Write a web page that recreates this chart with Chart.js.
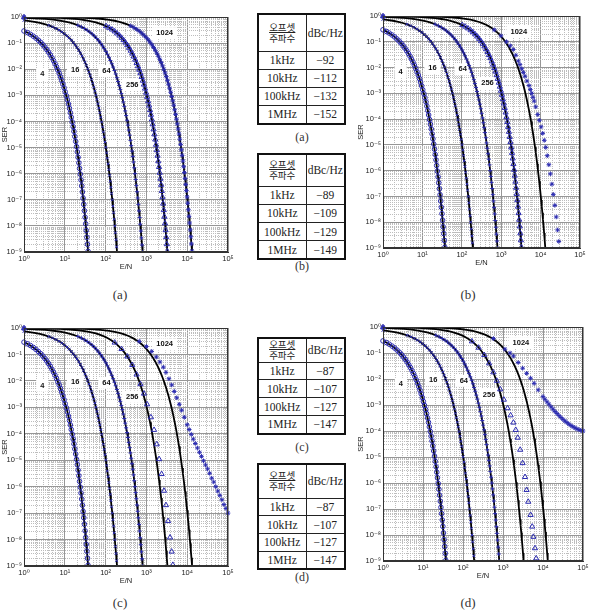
<!DOCTYPE html>
<html>
<head>
<meta charset="utf-8">
<script src="https://cdn.jsdelivr.net/npm/chart.js@4.4.1/dist/chart.umd.min.js"></script>
<style>
  body { margin: 0; width: 594px; height: 614px; background: #fff; position: relative; overflow: hidden; }
  canvas { position: absolute; }
  .cap { position: absolute; font: 12px "Liberation Serif", "DejaVu Serif", serif; color: #333; transform: translate(-50%, -50%); white-space: nowrap; }
  table.pn { position: absolute; border-collapse: collapse; border: 2px solid #111; font: 11.5px "Liberation Serif", "DejaVu Serif", serif; color: #222; table-layout: fixed; }
  table.pn td { border: 1px solid #222; text-align: center; padding: 0; white-space: nowrap; }
  table.pn td.ko { font: 9.5px "Noto Sans CJK KR", sans-serif; line-height: 11px; }
  table.pn td.ko span { text-decoration: underline; }
</style>
</head>
<body>
<canvas id="pa"></canvas>
<canvas id="pb"></canvas>
<canvas id="pc"></canvas>
<canvas id="pd"></canvas>

<script>
// axis ticks
const xDecades = [1, 10, 100, 1000, 1e4, 1e5];
const xTickText = ['10⁰', '10¹', '10²', '10³', '10⁴', '10⁵'];
const yDecades = [1e-9, 1e-8, 1e-7, 1e-6, 1e-5, 1e-4, 1e-3, 1e-2, 1e-1, 1];
const yTickText = ['10⁻⁹', '10⁻⁸', '10⁻⁷', '10⁻⁶', '10⁻⁵', '10⁻⁴', '10⁻³', '10⁻²', '10⁻¹', '10⁰'];

// curve names and where their labels sit (E/N, SER)
const curveNames = ['4', '16', '64', '256', '1024'];
const curveLabelEN = [2.8, 18, 105, 450, 2800];
const curveLabelSER = [6.6e-3, 9.3e-3, 8.5e-3, 2.5e-3, 0.24];

// theory curves (black lines)
const en4 = [1, 1.21, 1.44, 1.69, 1.96, 2.25, 2.56, 2.89, 3.24, 3.61, 4, 4.41, 4.84, 5.29, 5.76, 6.25, 6.76, 7.29, 7.84, 8.41, 9, 9.61, 10.2, 10.9, 11.6, 12.3, 13, 13.7, 14.4, 15.2, 16, 16.8, 17.6, 18.5, 19.4, 20.3, 21.2, 22.1, 23, 24, 25, 26, 27, 28.1, 29.2, 30.3, 31.4, 32.5, 33.6, 34.8, 36, 37.2, 38.4];
const ser4 = [0.292, 0.253, 0.217, 0.184, 0.155, 0.129, 0.107, 0.0872, 0.0705, 0.0566, 0.045, 0.0354, 0.0276, 0.0213, 0.0163, 0.0124, 0.0093, 0.00693, 0.00511, 0.00374, 0.0027, 1.94e-3, 1.37e-3, 9.66e-4, 6.74e-4, 4.66e-4, 3.18e-4, 2.16e-4, 1.45e-4, 9.62e-5, 6.34e-5, 4.14e-5, 2.66e-5, 1.71e-5, 1.08e-5, 6.8e-6, 4.22e-6, 2.6e-6, 1.59e-6, 9.58e-7, 5.74e-7, 3.4e-7, 1.99e-7, 1.16e-7, 6.66e-8, 3.8e-8, 2.14e-8, 1.2e-8, 6.64e-9, 3.64e-9, 1.97e-9, 1.06e-9, 5.64e-10];

const en16 = [1, 1.25, 1.8, 2.45, 3.2, 4.05, 5, 6.05, 7.2, 8.45, 9.8, 11.3, 12.8, 14.5, 16.2, 18.1, 20, 22.1, 24.2, 26.5, 28.8, 31.3, 33.8, 36.5, 39.2, 42.1, 45, 48.1, 51.2, 54.5, 57.8, 61.3, 64.8, 68.5, 72.2, 76.1, 80, 84.1, 88.2, 92.5, 96.8, 101, 106, 110, 115, 120, 125, 130, 135, 140, 146, 151, 157, 162, 168, 174, 180, 186, 192];
const ser16 = [0.741, 0.711, 0.654, 0.594, 0.535, 0.476, 0.419, 0.366, 0.316, 0.269, 0.228, 0.19, 0.158, 0.129, 0.105, 0.0843, 0.0671, 0.0529, 0.0413, 0.0319, 0.0245, 0.0185, 0.0139, 0.0104, 0.00767, 0.00561, 0.00405, 2.9e-3, 2.06e-3, 1.45e-3, 1.01e-3, 6.99e-4, 4.77e-4, 3.24e-4, 2.17e-4, 1.44e-4, 9.51e-5, 6.21e-5, 3.99e-5, 2.56e-5, 1.62e-5, 1.02e-5, 6.33e-6, 3.9e-6, 2.38e-6, 1.44e-6, 8.61e-7, 5.1e-7, 2.99e-7, 1.74e-7, 9.99e-8, 5.7e-8, 3.21e-8, 1.8e-8, 9.96e-9, 5.46e-9, 2.96e-9, 1.59e-9, 8.46e-10];

const en64 = [1, 1.89, 3.36, 5.25, 7.56, 10.3, 13.4, 17, 21, 25.4, 30.2, 35.5, 41.2, 47.3, 53.8, 60.7, 68, 75.8, 84, 92.6, 102, 111, 121, 131, 142, 153, 165, 177, 189, 202, 215, 229, 243, 257, 272, 288, 303, 319, 336, 353, 370, 388, 407, 425, 444, 464, 484, 504, 525, 546, 568, 590, 612, 635, 659, 682, 706, 731, 756, 781, 807];
const ser64 = [0.924, 0.89, 0.842, 0.788, 0.73, 0.668, 0.604, 0.541, 0.478, 0.419, 0.362, 0.31, 0.263, 0.22, 0.183, 0.15, 0.122, 0.098, 0.078, 0.0615, 0.0481, 0.0372, 0.0285, 0.0216, 0.0162, 0.0121, 0.00894, 0.00654, 0.00472, 3.39e-3, 2.4e-3, 1.69e-3, 1.18e-3, 8.15e-4, 5.56e-4, 3.78e-4, 2.53e-4, 1.68e-4, 1.11e-4, 7.25e-5, 4.66e-5, 2.99e-5, 1.89e-5, 1.19e-5, 7.39e-6, 4.55e-6, 2.78e-6, 1.68e-6, 1e-6, 5.95e-7, 3.49e-7, 2.03e-7, 1.17e-7, 6.65e-8, 3.75e-8, 2.1e-8, 1.16e-8, 6.37e-9, 3.45e-9, 1.86e-9, 9.87e-10];

const en256 = [1, 3.4, 7.65, 13.6, 21.3, 30.6, 41.7, 54.4, 68.9, 85, 103, 122, 144, 167, 191, 218, 246, 275, 307, 340, 375, 411, 450, 490, 531, 575, 620, 666, 715, 765, 817, 870, 926, 983, 1041, 1102, 1164, 1227, 1293, 1360, 1429, 1499, 1572, 1646, 1721, 1799, 1878, 1958, 2041, 2125, 2211, 2298, 2388, 2479, 2571, 2666, 2762, 2859, 2959, 3060, 3163, 3267, 3374];
const ser256 = [0.979, 0.955, 0.92, 0.875, 0.822, 0.764, 0.702, 0.637, 0.571, 0.507, 0.444, 0.385, 0.33, 0.28, 0.235, 0.195, 0.16, 0.13, 0.105, 0.0835, 0.0659, 0.0514, 0.0398, 0.0305, 0.0232, 0.0174, 0.013, 0.00958, 0.007, 0.00506, 3.63e-3, 2.58e-3, 1.81e-3, 1.26e-3, 8.74e-4, 5.96e-4, 4.05e-4, 2.71e-4, 1.8e-4, 1.19e-4, 7.76e-5, 4.99e-5, 3.2e-5, 2.03e-5, 1.28e-5, 7.91e-6, 4.88e-6, 2.97e-6, 1.8e-6, 1.08e-6, 6.38e-7, 3.74e-7, 2.17e-7, 1.25e-7, 7.13e-8, 4.01e-8, 2.25e-8, 1.25e-8, 6.83e-9, 3.7e-9, 1.99e-9, 1.06e-9, 5.6e-10];

const en1024 = [1, 3.41, 13.6, 30.7, 54.6, 85.3, 123, 167, 218, 276, 341, 413, 491, 576, 668, 767, 873, 986, 1105, 1231, 1364, 1504, 1650, 1804, 1964, 2131, 2305, 2486, 2673, 2868, 3069, 3277, 3492, 3714, 3942, 4177, 4419, 4668, 4924, 5187, 5456, 5732, 6015, 6305, 6602, 6905, 7216, 7533, 7857, 8188, 8525, 8869, 9221, 9579, 9944, 10315, 10694, 11079, 11471, 11870, 12276, 12689, 13108, 13534];
const ser1024 = [0.995, 0.988, 0.966, 0.933, 0.89, 0.838, 0.78, 0.718, 0.653, 0.586, 0.52, 0.457, 0.396, 0.34, 0.289, 0.242, 0.201, 0.165, 0.134, 0.108, 0.0863, 0.068, 0.0532, 0.0411, 0.0315, 0.0239, 0.018, 0.0134, 0.0099, 0.00723, 0.00523, 3.75e-3, 2.66e-3, 1.87e-3, 1.31e-3, 9.03e-4, 6.16e-4, 4.19e-4, 2.8e-4, 1.86e-4, 1.23e-4, 8.02e-5, 5.15e-5, 3.31e-5, 2.1e-5, 1.32e-5, 8.18e-6, 5.04e-6, 3.07e-6, 1.86e-6, 1.11e-6, 6.59e-7, 3.86e-7, 2.24e-7, 1.29e-7, 7.36e-8, 4.15e-8, 2.33e-8, 1.29e-8, 7.05e-9, 3.82e-9, 2.05e-9, 1.09e-9, 5.8e-10];

// simulated points that leave the theory curves
const simB1024EN = [1, 85, 341, 668, 985, 1364, 1700, 2030, 2350, 2720, 3000, 3310, 3650, 4020, 4500, 5080, 5500, 5940, 6400, 6900, 7500, 8450, 9300, 10300, 11300, 12400, 13500, 14800, 16200, 17700, 19300, 21000, 23000, 25000, 27000, 29000, 31000];
const simB1024SER = [0.995, 0.838, 0.52, 0.29, 0.17, 0.1, 0.07, 0.05, 0.03, 0.018, 0.013, 0.009, 0.0065, 0.0046, 0.003, 0.002, 0.0014, 0.001, 7e-4, 5e-4, 3e-4, 1.5e-4, 9e-5, 5e-5, 2.8e-5, 1.5e-5, 8e-6, 3.8e-6, 1.7e-6, 7.5e-7, 3e-7, 1.2e-7, 4.5e-8, 1.6e-8, 5e-9, 1.8e-9, 7e-10];

const simC256EN = [1, 21.3, 85, 167, 246, 340, 450, 575, 715, 870, 1040, 1290, 1540, 1790, 2050, 2360, 2700, 3020, 3400, 3800, 4150, 4450, 4700];
const simC256SER = [0.979, 0.822, 0.507, 0.28, 0.16, 0.0835, 0.0398, 0.0174, 0.0075, 0.0033, 0.0013, 4.2e-4, 1.4e-4, 4e-5, 1.1e-5, 3e-6, 7e-7, 2e-7, 5e-8, 1.2e-8, 3.5e-9, 1.1e-9, 5e-10];
const simC1024EN = [1, 85, 341, 668, 1000, 1350, 1750, 2150, 2600, 3020, 3570, 4170, 4820, 5530, 6410, 7300, 8500, 10000, 11200, 12600, 14100, 15800, 17800, 20000, 22400, 25100, 28200, 31600, 35500, 39800, 44700, 50100, 56200, 63100, 70800, 79400, 89100, 100000];
const simC1024SER = [0.995, 0.838, 0.53, 0.31, 0.2, 0.13, 0.08, 0.052, 0.033, 0.021, 0.012, 0.007, 0.004, 0.0023, 0.0013, 7.8e-4, 4.2e-4, 2.2e-4, 1.45e-4, 9.5e-5, 6.3e-5, 4.3e-5, 2.9e-5, 2e-5, 1.4e-5, 9.5e-6, 6.6e-6, 4.7e-6, 3.2e-6, 2.1e-6, 1.5e-6, 1e-6, 6.8e-7, 4.7e-7, 3.2e-7, 2.1e-7, 1.5e-7, 1e-7];

const simD256EN = [1, 21.3, 85, 167, 246, 340, 450, 575, 700, 850, 1050, 1300, 1550, 1820, 2080, 2340, 2690, 3090, 3550, 3890, 4270, 4900, 5370, 5750, 6310, 6760, 7100];
const simD256SER = [0.979, 0.822, 0.507, 0.28, 0.16, 0.0835, 0.04, 0.018, 0.0085, 0.004, 0.0016, 7.5e-4, 4e-4, 2.1e-4, 1.1e-4, 5.5e-5, 1.9e-5, 5.8e-6, 1.7e-6, 5.4e-7, 1.9e-7, 5.9e-8, 2.1e-8, 8.5e-9, 3.1e-9, 1.26e-9, 6e-10];
const simD1024EN = [1, 85, 341, 576, 1120, 1500, 1820, 2400, 3100, 3900, 4900, 6000, 7600, 10000, 11200, 12600, 14100, 15800, 17800, 20000, 22400, 25100, 28200, 31600, 35500, 39800, 44700, 50100, 56200, 63100, 70800, 79400, 89100, 100000];
const simD1024SER = [0.995, 0.838, 0.53, 0.36, 0.14, 0.1, 0.076, 0.043, 0.026, 0.0165, 0.0107, 0.0068, 0.0038, 0.0021, 0.00166, 0.00132, 0.00107, 8.5e-4, 6.9e-4, 5.6e-4, 4.7e-4, 3.9e-4, 3.3e-4, 2.8e-4, 2.4e-4, 2.1e-4, 1.82e-4, 1.62e-4, 1.45e-4, 1.32e-4, 1.2e-4, 1.12e-4, 1.05e-4, 1e-4];

// phase noise tables
const tableHead = ['오프셋', '주파수'];
const tableUnit = 'dBc/Hz';
const offsetFreqs = ['1kHz', '10kHz', '100kHz', '1MHz'];
const noiseA = [-92, -112, -132, -152];
const noiseB = [-89, -109, -129, -149];
const noiseC = [-87, -107, -127, -147];
const noiseD = [-87, -107, -127, -147];

const BLUE = '#2b2bb0';
const SANS = '"Liberation Sans", "DejaVu Sans", Arial, sans-serif';

function pts(xs, ys) {
  return xs.map(function (x, i) { return { x: x, y: ys[i] }; });
}

function isDecade(v) {
  if (v === undefined || v <= 0) return false;
  const l = Math.log10(v);
  return Math.abs(l - Math.round(l)) < 1e-6;
}

function gridValues(decades) {
  const lo = Math.round(Math.log10(Math.min.apply(null, decades)));
  const hi = Math.round(Math.log10(Math.max.apply(null, decades)));
  const vals = [];
  for (let e = lo; e < hi; e++) {
    for (let m = 1; m < 10; m++) vals.push(m * Math.pow(10, e));
  }
  vals.push(Math.pow(10, hi));
  return vals;
}

function decadeText(v, decades, texts) {
  if (!isDecade(v)) return '';
  const k = Math.round(Math.log10(v));
  const i = decades.findIndex(function (d) { return Math.round(Math.log10(d)) === k; });
  return i >= 0 ? texts[i] : '';
}

function logScale(pos, decades, texts, title, box) {
  const grids = gridValues(decades);
  return {
    type: 'logarithmic',
    position: pos,
    min: Math.min.apply(null, decades),
    max: Math.max.apply(null, decades),
    afterBuildTicks: function (s) { s.ticks = grids.map(function (v) { return { value: v }; }); },
    afterFit: function (s) { if (pos === 'left') s.width = box.yw; else s.height = box.xh; },
    ticks: {
      autoSkip: false, maxRotation: 0, minRotation: 0, padding: 2, color: '#222',
      font: { family: SANS, size: 7.5 },
      callback: function (v) { return decadeText(v, decades, texts); }
    },
    grid: {
      drawTicks: false, lineWidth: 1,
      color: function (ctx) { return isDecade(ctx.tick ? ctx.tick.value : undefined) ? '#969696' : '#bdbdbd'; }
    },
    border: {
      color: '#333', width: 1,
      dash: function (ctx) { return (ctx.tick && !isDecade(ctx.tick.value)) ? [1, 1] : []; }
    },
    title: {
      display: true, text: title, color: '#222',
      font: { family: SANS, size: 7.5 },
      padding: pos === 'left' ? { top: 0, bottom: 0 } : { top: 0, bottom: box.pb }
    }
  };
}

// frame round the plot area
const framePlugin = {
  id: 'frame',
  afterDatasetsDraw: function (chart) {
    const a = chart.chartArea, ctx = chart.ctx;
    ctx.save();
    ctx.strokeStyle = '#333';
    ctx.lineWidth = 1;
    ctx.strokeRect(Math.round(a.left) + 0.5, Math.round(a.top) + 0.5,
      Math.round(a.right - a.left) - 1, Math.round(a.bottom - a.top) - 1);
    ctx.restore();
  }
};

// curve names with a white box behind
const curveLabelPlugin = {
  id: 'curveLabels',
  beforeDatasetsDraw: function (chart) {
    const ctx = chart.ctx, xs = chart.scales.x, ys = chart.scales.y;
    ctx.save();
    ctx.font = 'bold 7.5px ' + SANS;
    ctx.textAlign = 'center';
    ctx.textBaseline = 'middle';
    curveNames.forEach(function (name, i) {
      const px = xs.getPixelForValue(curveLabelEN[i]);
      const py = ys.getPixelForValue(curveLabelSER[i]);
      const w = ctx.measureText(name).width;
      ctx.fillStyle = '#fff';
      ctx.fillRect(px - w / 2 - 4, py - 6, w + 8, 12);
      ctx.fillStyle = '#111';
      ctx.fillText(name, px, py);
    });
    ctx.restore();
  }
};

const markerStyles = [
  { pointStyle: 'circle', radius: 2.3 },
  { pointStyle: 'crossRot', radius: 2 },
  { pointStyle: 'cross', radius: 2 },
  { pointStyle: 'triangle', radius: 3 },
  { pointStyle: 'star', radius: 2.3 }
];

const theory = [[en4, ser4], [en16, ser16], [en64, ser64], [en256, ser256], [en1024, ser1024]];

const panels = [
  { id: 'pa', left: 0, top: 0, w: 240, h: 272, plot: { l: 24, t: 17, r: 228, b: 252 },
    sims: theory },
  { id: 'pb', left: 356, top: 0, w: 236, h: 268, plot: { l: 383, t: 16, r: 580, b: 248 },
    sims: [theory[0], theory[1], theory[2], theory[3], [simB1024EN, simB1024SER]] },
  { id: 'pc', left: 0, top: 310, w: 240, h: 276, plot: { l: 24, t: 328, r: 228, b: 566 },
    sims: [theory[0], theory[1], theory[2], [simC256EN, simC256SER], [simC1024EN, simC1024SER]] },
  { id: 'pd', left: 356, top: 310, w: 236, h: 271, plot: { l: 383, t: 327, r: 583, b: 561 },
    sims: [theory[0], theory[1], theory[2], [simD256EN, simD256SER], [simD1024EN, simD1024SER]] }
];

panels.forEach(function (p) {
  const box = {
    yw: p.plot.l - p.left,
    xh: p.top + p.h - p.plot.b,
    pt: p.plot.t - p.top,
    pr: p.left + p.w - p.plot.r,
    pb: 1
  };
  const cv = document.getElementById(p.id);
  cv.width = p.w; cv.height = p.h;
  cv.style.left = p.left + 'px'; cv.style.top = p.top + 'px';

  const datasets = [];
  theory.forEach(function (t) {
    datasets.push({
      data: pts(t[0], t[1]), showLine: true, borderColor: '#000', borderWidth: 1.8,
      pointRadius: 0, order: 2
    });
  });
  p.sims.forEach(function (s, i) {
    const st = markerStyles[i];
    datasets.push({
      data: pts(s[0], s[1]), showLine: false, order: 1,
      pointStyle: st.pointStyle, borderColor: BLUE, backgroundColor: 'rgba(0,0,0,0)', borderWidth: 1,
      pointRadius: function (ctx) { return (ctx.dataIndex === 0 || ctx.raw.y < 0.5) ? st.radius : 0; },
      clip: { left: 4, top: 4, right: 4, bottom: 0 }
    });
  });

  new Chart(cv, {
    type: 'scatter',
    data: { datasets: datasets },
    options: {
      responsive: false, animation: false,
      layout: { padding: { left: 0, top: box.pt, right: box.pr, bottom: 0 } },
      plugins: { legend: { display: false }, tooltip: { enabled: false } },
      scales: {
        x: logScale('bottom', xDecades, xTickText, 'E/N', box),
        y: logScale('left', yDecades, yTickText, 'SER', box)
      }
    },
    plugins: [curveLabelPlugin, framePlugin]
  });
});

// tables in the middle column
const tables = [
  { values: noiseA, top: 13, head: 37, row: 18.2, cap: '(a)', capY: 137 },
  { values: noiseB, top: 153, head: 32, row: 18.3, cap: '(b)', capY: 266 },
  { values: noiseC, top: 337, head: 24, row: 17.9, cap: '(c)', capY: 447 },
  { values: noiseD, top: 463, head: 34, row: 17.7, cap: '(d)', capY: 577 }
];

function fmtDb(v) { return v < 0 ? '\u2212' + Math.abs(v) : String(v); }

tables.forEach(function (t) {
  const tb = document.createElement('table');
  tb.className = 'pn';
  tb.style.left = '257px'; tb.style.top = t.top + 'px'; tb.style.width = '87px';
  let html = '<colgroup><col style="width:48px"><col style="width:39px"></colgroup>';
  html += '<tr style="height:' + t.head + 'px"><td class="ko"><span>' + tableHead[0] + '</span><br>' + tableHead[1] + '</td><td>' + tableUnit + '</td></tr>';
  offsetFreqs.forEach(function (f, i) {
    html += '<tr style="height:' + t.row + 'px"><td>' + f + '</td><td>' + fmtDb(t.values[i]) + '</td></tr>';
  });
  tb.innerHTML = html;
  document.body.appendChild(tb);

  const c = document.createElement('div');
  c.className = 'cap';
  c.style.left = '302px'; c.style.top = t.capY + 'px';
  c.textContent = t.cap;
  document.body.appendChild(c);
});

// figure captions
[['(a)', 120, 295], ['(b)', 468, 295], ['(c)', 120, 603], ['(d)', 468, 603]].forEach(function (c) {
  const d = document.createElement('div');
  d.className = 'cap';
  d.style.left = c[1] + 'px'; d.style.top = c[2] + 'px';
  d.style.fontSize = '13px';
  d.textContent = c[0];
  document.body.appendChild(d);
});
</script>
</body>
</html>
